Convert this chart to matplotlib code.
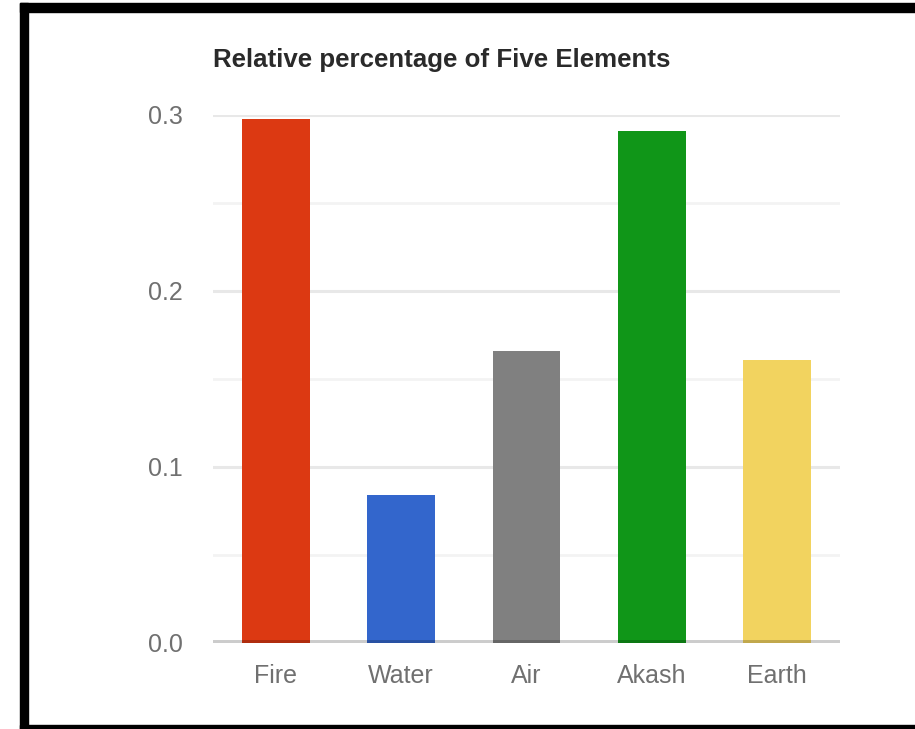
import matplotlib
matplotlib.use('Agg')
import matplotlib.pyplot as plt
from matplotlib.patches import Rectangle

# relative share of each element
elements = ['Fire', 'Water', 'Air', 'Akash', 'Earth']
shares = [0.298, 0.084, 0.166, 0.291, 0.161]
bar_colors = ['#dc3912', '#3366cc', '#808080', '#109618', '#f2d35f']
yticks = [0.0, 0.1, 0.2, 0.3]
ytick_labels = ['0.0', '0.1', '0.2', '0.3']
minor_ticks = [0.05, 0.15, 0.25]

W, H = 915, 729
plt.rcParams['font.family'] = ['Liberation Sans', 'DejaVu Sans']

fig = plt.figure(figsize=(W / 100, H / 100), dpi=100)
ax = fig.add_axes([213 / W, 86 / H, 627 / W, 528 / H])

xs = list(range(len(elements)))
ax.bar(xs, shares, width=0.54, color=bar_colors, zorder=2)

# gridlines
for y in minor_ticks:
    ax.axhline(y, color='#f3f3f3', lw=2, zorder=1)
for y in yticks[1:]:
    ax.axhline(y, color='#e8e8e8', lw=2.2, zorder=1)
# baseline sits over the bars
ax.axhline(0, color='black', alpha=0.2, lw=5, zorder=3)

ax.set_xlim(-0.5, len(elements) - 0.5)
ax.set_ylim(0, 0.3)
ax.set_xticks(xs)
ax.set_xticklabels(elements)
ax.set_yticks(yticks)
ax.set_yticklabels(ytick_labels)
ax.tick_params(length=0, labelsize=18, labelcolor='#707070')
ax.tick_params(axis='y', pad=22)
ax.tick_params(axis='x', pad=15)
for s in ax.spines.values():
    s.set_visible(False)

fig.text(213 / W, 1 - 60 / H, 'Relative percentage of Five Elements',
         fontsize=18.6, fontweight='bold', color='#2a2a2a', va='center', ha='left')

# black frame: top, left and bottom
fig.patches.append(Rectangle((20 / W, 1 - 12 / H), 1 - 20 / W, 9 / H,
                             transform=fig.transFigure, color='black'))
fig.patches.append(Rectangle((20 / W, 0), 8 / W, 1 - 3 / H,
                             transform=fig.transFigure, color='black'))
fig.patches.append(Rectangle((20 / W, 0), 1 - 20 / W, 4 / H,
                             transform=fig.transFigure, color='black'))

fig.savefig('out.png', dpi=100)
